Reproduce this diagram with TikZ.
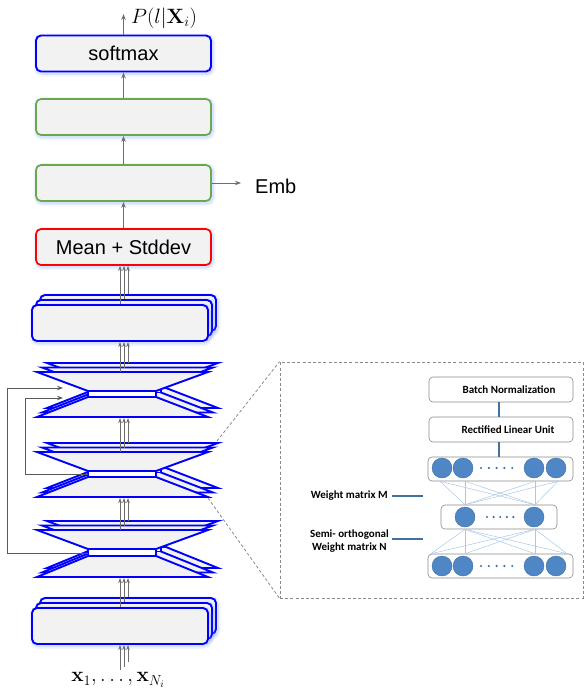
\documentclass[tikz,border=0pt]{standalone}
\usepackage[no-math]{fontspec}
\setmainfont{Liberation Sans}
\newfontfamily\carl{Carlito}
\usetikzlibrary{arrows.meta,calc}
\definecolor{boxgray}{HTML}{F2F2F2}
\definecolor{mblue}{HTML}{0000FF}
\definecolor{mgreen}{HTML}{6AA84F}
\definecolor{mred}{HTML}{FF0000}
\definecolor{agray}{HTML}{6E6E6E}
\definecolor{sgray}{HTML}{5A5A5A}
\definecolor{glowc}{HTML}{6F8FFF}
\definecolor{nblue}{HTML}{4F86C6}
\definecolor{nedge}{HTML}{41719C}
\definecolor{lblue}{HTML}{A9C8E8}
\definecolor{dgray}{HTML}{8A8A8A}
\newcommand\drawbt[4]{%
  \foreach \dx/\dy in {10/9,5/4.5,0/0}{%
    \draw[btl] ({37+\dx},{#1-\dy}) -- ({208+\dx},{#1-\dy}) -- ({156+\dx},{#2-\dy}) -- ({156+\dx},{#3-\dy}) -- ({208+\dx},{#4-\dy}) -- ({37+\dx},{#4-\dy}) -- ({88+\dx},{#3-\dy}) -- ({88+\dx},{#2-\dy}) -- cycle;
    \draw[btl,fill=white] ({88+\dx},{#2-\dy}) rectangle ({156+\dx},{#3-\dy});
  }}
\begin{document}
\begin{tikzpicture}[x=1pt,y=-1pt,
  glow/.style={preaction={draw=glowc,line width=7pt,opacity=0.10,transform canvas={shift={(1pt,-1.5pt)}}},
               preaction={draw=glowc,line width=3.5pt,opacity=0.18,transform canvas={shift={(1pt,-1.5pt)}}}},
  mbox/.style={draw,rounded corners=5pt,fill=boxgray,line width=1.7pt,minimum width=175pt,minimum height=36pt,inner sep=0pt,font=\fontsize{20}{24}\selectfont,glow},
  sbox/.style={mbox,draw=mblue,line width=1.9pt,minimum width=176pt},
  btl/.style={draw=mblue,fill=boxgray,line width=1.9pt,line join=miter},
  arr/.style={draw=agray,line width=0.9pt,-{Stealth[length=6pt,width=4.5pt]}},
  tarr/.style={draw=agray,line width=0.8pt,-{Stealth[length=5pt,width=3.6pt]}},
  skip/.style={draw=sgray,line width=0.9pt,-{Stealth[length=6pt,width=4.5pt]}},
  dashedline/.style={draw=dgray,line width=0.8pt,dash pattern=on 3pt off 2.2pt},
  ibox/.style={draw=dgray,rounded corners=4pt,line width=0.6pt,fill=white,inner sep=0pt},
  itext/.style={font=\carl\bfseries\fontsize{11}{13}\selectfont},
  neuron/.style={circle,fill=nblue,draw=nedge,line width=0.4pt,minimum size=20pt,inner sep=0pt},
  conn/.style={draw=lblue,line width=0.5pt},
  ilink/.style={draw=nedge,line width=1.2pt}]
\useasboundingbox (0,0) rectangle (584,693);

% top column
\node[mbox,draw=mblue,line width=1.9pt] (softmax) at (123.5,53.5) {softmax};
\node[mbox,draw=mgreen] (g1) at (123.5,117) {};
\node[mbox,draw=mgreen] (g2) at (123.5,183) {};
\node[mbox,draw=mred] (red) at (123.5,247) {Mean + Stddev};
\coordinate (pout) at (124,14);
\node[anchor=west,font=\fontsize{20}{24}\selectfont,inner sep=0pt] (pl) at (131,18) {$P(l|\mathbf{X}_i)$};
\coordinate (embc) at (241,183);
\node[anchor=west,font=\fontsize{20}{24}\selectfont,inner sep=0pt] (emb) at (255,186) {Emb};
\draw[arr] (softmax.north) -- (softmax.north |- pout);
\draw[arr] (g1.north) -- (g1.north |- softmax.south);
\draw[arr] (g2.north) -- (g2.north |- g1.south);
\draw[arr] (red.north) -- (red.north |- g2.south);
\draw[arr] (g2.east) -- (embc);

% dashed inset frame and zoom lines
\node[dashedline,minimum width=303pt,minimum height=236pt,inner sep=0pt] (inset) at (431.5,480) {};
\coordinate (dA) at (217,441);
\coordinate (dB) at (208,498);
\draw[dashedline] (dA) -- (inset.north west);
\draw[dashedline] (dB) -- (inset.south west);

% stacked top box
\node[sbox] (st3) at (128,313) {};
\node[sbox] (st2) at (124,318) {};
\node[sbox] (st1) at (120,323) {};
\draw[tarr] (st1.north) -- (st1.north |- red.south);
\draw[tarr] (st2.north) -- (st2.north |- red.south);
\draw[tarr] (st3.north) -- (st3.north |- red.south);

% bowties
\drawbt{372}{391}{397}{417}
\drawbt{452}{471}{477}{497}
\drawbt{530}{549}{556}{577}
\coordinate (b1bot) at (122,418);
\coordinate (b2bot) at (122,498);
\coordinate (b3bot) at (122,578);
\coordinate (b1a) at (120,372); \coordinate (b1b) at (124,367.5); \coordinate (b1c) at (128,363);
\coordinate (b2a) at (120,452); \coordinate (b2b) at (124,447.5); \coordinate (b2c) at (128,443);
\coordinate (b3a) at (120,530); \coordinate (b3b) at (124,525.5); \coordinate (b3c) at (128,521);
\foreach \p in {b1a,b1b,b1c} \draw[tarr] (\p) -- (\p |- st1.south);
\foreach \p in {b2a,b2b,b2c} \draw[tarr] (\p) -- (\p |- b1bot);
\foreach \p in {b3a,b3b,b3c} \draw[tarr] (\p) -- (\p |- b2bot);

% bottom stacked box
\node[sbox] (sb3) at (128,616) {};
\node[sbox] (sb2) at (124,621) {};
\node[sbox] (sb1) at (120,626) {};
\foreach \p in {sb1,sb2,sb3} \draw[tarr] (\p.north) -- (\p.north |- b3bot);
\coordinate (in1) at (120,670); \coordinate (in2) at (124,667); \coordinate (in3) at (128,662);
\foreach \p in {in1,in2,in3} \draw[tarr] (\p) -- (\p |- sb1.south);
\node[font=\fontsize{20}{24}\selectfont,inner sep=0pt] (xin) at (118,680) {$\mathbf{x}_1,\ldots,\mathbf{x}_{N_i}$};

% skip connections
\coordinate (n3l) at (88,553);
\coordinate (n2l) at (88,474);
\coordinate (ta) at (63,388);
\coordinate (tb) at (63,398);
\draw[skip] (n3l) -| ([xshift=-56pt]ta) -- (ta);
\draw[skip] (n2l) -| ([xshift=-38pt]tb) -- (tb);

% inset content
\node[ibox,itext,minimum width=144pt,minimum height=25pt] (bn) at (501,389.5) {\hspace*{16pt}Batch Normalization};
\node[ibox,itext,minimum width=144pt,minimum height=25pt] (relu) at (501,429.5) {\hspace*{14pt}Rectified Linear Unit};
\node[ibox,minimum width=145pt,minimum height=24pt] (row1) at (500.5,469) {};
\node[ibox,minimum width=116pt,minimum height=24pt] (row2) at (499,517) {};
\node[ibox,minimum width=145pt,minimum height=24pt] (row3) at (500.5,566) {};
\draw[ilink] (bn.south -| 499,0) -- (relu.north -| 499,0);
\draw[ilink] (relu.south -| 499,0) -- (row1.north -| 499,0);
\foreach \a in {440,465,535,558}
  \foreach \b in {465,535}
    \draw[conn] (\a,0 |- row1.south) -- (\b,0 |- row2.north);
\foreach \a in {465,535}
  \foreach \b in {431,465,535,567}
    \draw[conn] (\a,0 |- row2.south) -- (\b,0 |- row3.north);
\node[neuron] (c11) at (442,468) {};
\node[neuron] (c12) at (463,468) {};
\node[neuron] (c13) at (534,468) {};
\node[neuron] (c14) at (556,468) {};
\node[neuron] (c21) at (465,517) {};
\node[neuron] (c22) at (534,517) {};
\node[neuron] (c31) at (442,566) {};
\node[neuron] (c32) at (463,566) {};
\node[neuron] (c33) at (534,566) {};
\node[neuron] (c34) at (556,566) {};
\foreach \i in {0,...,4} {
  \fill[nedge] ({481+7.8*\i},468) circle (1.2pt);
  \fill[nedge] ({487+6.6*\i},517) circle (1.2pt);
  \fill[nedge] ({481+7.8*\i},566) circle (1.2pt);
}
\node[itext,anchor=east,inner sep=1pt] (wm) at (389,496) {Weight matrix M};
\coordinate (wmc) at (423,496);
\draw[ilink] ([xshift=3pt]wm.east) -- (wmc);
\node[itext,anchor=east,inner sep=1pt,align=center] (so) at (390,541) {Semi- orthogonal\\Weight matrix N};
\coordinate (soc) at (423,539);
\draw[ilink] ([xshift=2pt]so.east |- soc) -- (soc);
\end{tikzpicture}
\end{document}
